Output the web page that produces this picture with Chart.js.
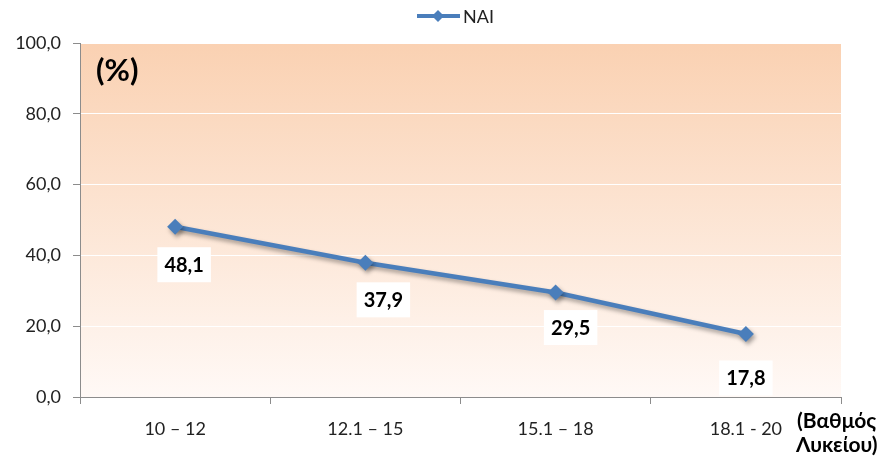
<!DOCTYPE html>
<html>
<head>
<meta charset="utf-8">
<script src="https://cdn.jsdelivr.net/npm/chart.js@4/dist/chart.umd.min.js"></script>
<style>
html,body{margin:0;padding:0;background:#fff;}
#wrap{width:879px;height:456px;position:relative;}
</style>
</head>
<body>
<div id="wrap"><canvas id="c" width="879" height="456"></canvas></div>
<script>
// ---- data ----
const categories = ["10 – 12", "12.1 – 15", "15.1 – 18", "18.1 - 20"];
const seriesName = "NAI";
const values = [48.1, 37.9, 29.5, 17.8];
const yTickValues = [0, 20, 40, 60, 80, 100];
const unitLabel = "(%)";
const axisTitleLines = ["(Βαθμός", "Λυκείου)"];

// ---- styling ----
const FONT = 'Lato, "Open Sans", "DejaVu Sans", sans-serif';
const LINE_COLOR = '#4A7EBB';
const labelOffsets = [[9, 38], [18, 37], [15, 35], [0, 44]];

const bgPlugin = {
  id: 'bg',
  beforeDraw(chart) {
    const {ctx, chartArea: a} = chart;
    const g = ctx.createLinearGradient(0, a.top, 0, a.bottom);
    g.addColorStop(0, '#FAD1B2');
    g.addColorStop(1, '#FFF9F6');
    ctx.save();
    ctx.fillStyle = g;
    ctx.fillRect(a.left, a.top, a.right - a.left, a.bottom - a.top);
    ctx.restore();
  }
};

const shadowPlugin = {
  id: 'shadow',
  beforeDatasetDraw(chart) {
    const ctx = chart.ctx;
    ctx.save();
    ctx.shadowColor = 'rgba(0,0,0,0.35)';
    ctx.shadowBlur = 4;
    ctx.shadowOffsetX = 2;
    ctx.shadowOffsetY = 3;
  },
  afterDatasetDraw(chart) {
    chart.ctx.restore();
  }
};

const labelPlugin = {
  id: 'labels',
  afterDatasetsDraw(chart) {
    const ctx = chart.ctx;
    const meta = chart.getDatasetMeta(0);
    ctx.save();
    ctx.font = 'bold 20px ' + FONT;
    ctx.textAlign = 'center';
    ctx.textBaseline = 'middle';
    meta.data.forEach((pt, i) => {
      const txt = values[i].toFixed(1).replace('.', ',');
      const [dx, dy] = labelOffsets[i];
      const cx = pt.x + dx, cy = pt.y + dy;
      const w = ctx.measureText(txt).width + 14;
      const h = 35;
      ctx.fillStyle = '#ffffff';
      ctx.fillRect(cx - w / 2, cy - h / 2, w, h);
      ctx.fillStyle = '#000000';
      ctx.fillText(txt, cx, cy + 1);
    });
    // unit label
    const a = chart.chartArea;
    ctx.font = 'bold 31px ' + FONT;
    ctx.textAlign = 'left';
    ctx.fillStyle = '#000';
    ctx.fillText(unitLabel, a.left + 16, a.top + 28);
    // axis title
    ctx.font = 'bold 21px ' + FONT;
    ctx.textAlign = 'left';
    ctx.fillText(axisTitleLines[0], 797, 421);
    ctx.fillText(axisTitleLines[1], 796, 445);
    // legend
    const ly = 16;
    ctx.strokeStyle = LINE_COLOR;
    ctx.lineWidth = 4;
    ctx.beginPath();
    ctx.moveTo(417, ly);
    ctx.lineTo(460, ly);
    ctx.stroke();
    ctx.fillStyle = LINE_COLOR;
    ctx.beginPath();
    ctx.moveTo(438, ly - 6); ctx.lineTo(444, ly); ctx.lineTo(438, ly + 6); ctx.lineTo(432, ly);
    ctx.closePath(); ctx.fill();
    ctx.fillStyle = '#222';
    ctx.font = '18px ' + FONT;
    ctx.fillText(seriesName, 463, ly + 1);
    ctx.restore();
  }
};

new Chart(document.getElementById('c'), {
  type: 'line',
  data: {
    labels: categories,
    datasets: [{
      label: seriesName,
      data: values,
      borderColor: LINE_COLOR,
      backgroundColor: LINE_COLOR,
      borderWidth: 4.5,
      pointStyle: 'rectRot',
      pointRadius: 8,
      pointHoverRadius: 8,
      pointBorderWidth: 0,
      pointBackgroundColor: LINE_COLOR,
      tension: 0,
      fill: false
    }]
  },
  options: {
    responsive: false,
    animation: false,
    events: [],
    layout: { padding: { top: 43, right: 38, left: 0, bottom: 0 } },
    plugins: { legend: { display: false }, tooltip: { enabled: false } },
    scales: {
      x: {
        offset: true,
        grid: { offset: true, drawOnChartArea: false, tickLength: 7, color: '#8c8c8c', tickColor: '#8c8c8c' },
        border: { color: '#8c8c8c', width: 1 },
        ticks: { color: '#222', font: { family: FONT, size: 18 }, padding: 14, maxRotation: 0, autoSkip: false },
        afterFit(s) { s.height = 59; }
      },
      y: {
        min: 0, max: 100,
        grid: { color: '#ffffff', lineWidth: 1, tickLength: 7, tickColor: '#8c8c8c' },
        border: { color: '#8c8c8c', width: 1 },
        afterBuildTicks(s) { s.ticks = yTickValues.map(v => ({ value: v })); },
        ticks: {
          color: '#222', font: { family: FONT, size: 18 }, padding: 12,
          callback: v => v.toFixed(1).replace('.', ',')
        },
        afterFit(s) { s.width = 80; }
      }
    }
  },
  plugins: [bgPlugin, shadowPlugin, labelPlugin]
});
</script>
</body>
</html>
